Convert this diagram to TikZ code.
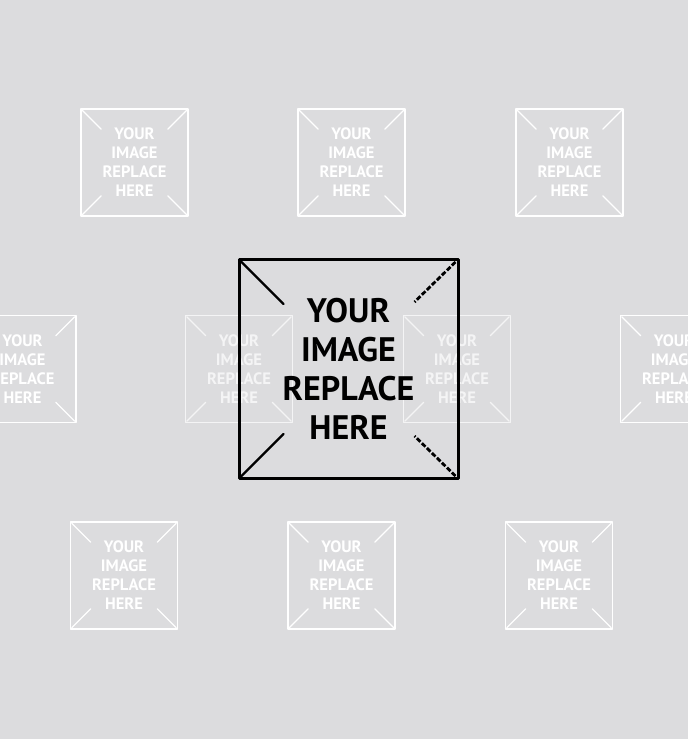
\documentclass[tikz,border=0pt]{standalone}
\usepackage{fontspec}
\newfontfamily\ptsans{PT Sans}
\definecolor{pagebg}{RGB}{220,220,222}
\begin{document}
\begin{tikzpicture}[line join=round, line cap=round, x=1pt, y=-1pt]
	\tikzset{smallbox/.style={draw=white,line width=1.5pt,text=white,minimum size=107pt,inner sep=0pt,align=center,font=\ptsans\bfseries\fontsize{16.5}{19}\selectfont},
		bigbox/.style={draw=black,line width=3pt,text=black,minimum size=219pt,inner sep=0pt,align=center,font=\ptsans\bfseries\fontsize{34}{39}\selectfont}}
	\useasboundingbox (0,0) rectangle (688,739);
	\fill[pagebg] (0,0) rectangle (688,739);
	\clip (0,0) rectangle (688,739);
	% placeholders behind
	\foreach \x/\y/\nm/\op in {134.5/162.5/a/1,351.5/162.5/b/1,569.5/162.5/c/1,22.5/369/d/1,239/369/e/.7,457/369/f/.7,674/369/g/1,124/575.5/h/1,341.5/575.5/i/1,559/575.5/j/1}{
	\node[smallbox,draw opacity=\op,text opacity=\op] (\nm) at (\x,\y) {YOUR\\IMAGE\\REPLACE\\HERE};
	\draw[white,line width=1.2pt,draw opacity=\op] ([shift={(2,2)}]\nm.north west)--++(19,19) ([shift={(-2,2)}]\nm.north east)--++(-19,19)
		([shift={(2,-2)}]\nm.south west)--++(19,-19) ([shift={(-2,-2)}]\nm.south east)--++(-19,-19);
	}
	% main placeholder
	\node[bigbox] (main) at (348.5,369) {YOUR\\IMAGE\\REPLACE\\HERE};
	\draw[line width=2.2pt] ([shift={(4,4)}]main.north west)--++(42,42) ([shift={(4,-4)}]main.south west)--++(42,-42);
	\draw[line width=2.8pt,line cap=butt,dash pattern=on 5pt off 2pt] ([shift={(-4,4)}]main.north east)--++(-41,40) ([shift={(-4,-4)}]main.south east)--++(-41,-40);
\end{tikzpicture}
\end{document}
